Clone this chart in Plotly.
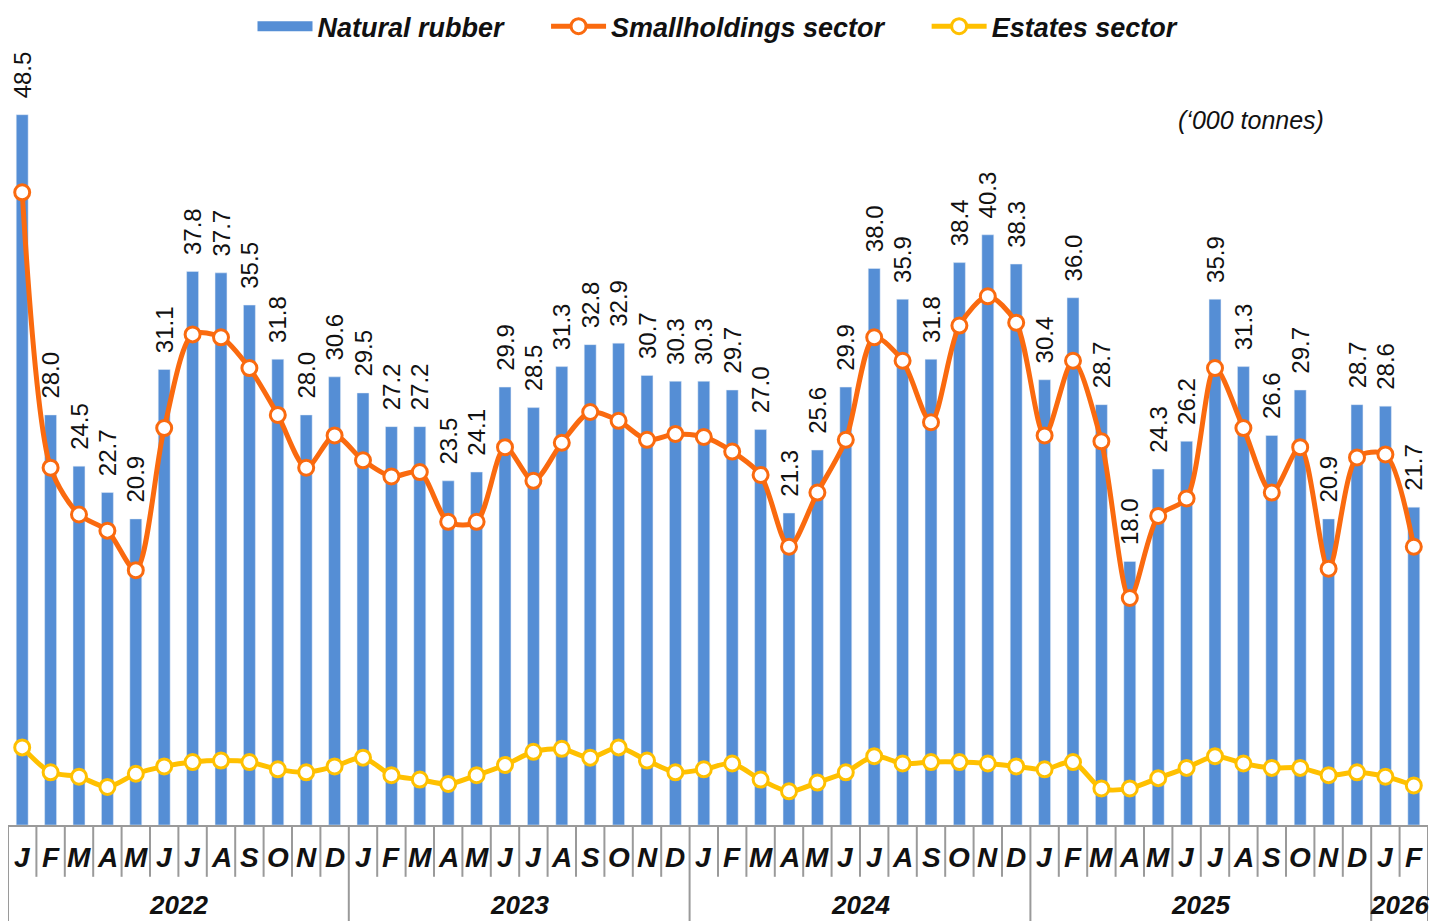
import plotly.graph_objects as go

# monthly production, '000 tonnes (Jan 2022 - Feb 2026)
years = ['2022'] * 12 + ['2023'] * 12 + ['2024'] * 12 + ['2025'] * 12 + ['2026'] * 2
month_letters = ['J', 'F', 'M', 'A', 'M', 'J', 'J', 'A', 'S', 'O', 'N', 'D']

natural_rubber = [
    48.5, 28.0, 24.5, 22.7, 20.9, 31.1, 37.8, 37.7, 35.5, 31.8, 28.0, 30.6,
    29.5, 27.2, 27.2, 23.5, 24.1, 29.9, 28.5, 31.3, 32.8, 32.9, 30.7, 30.3,
    30.3, 29.7, 27.0, 21.3, 25.6, 29.9, 38.0, 35.9, 31.8, 38.4, 40.3, 38.3,
    30.4, 36.0, 28.7, 18.0, 24.3, 26.2, 35.9, 31.3, 26.6, 29.7, 20.9, 28.7,
    28.6, 21.7,
]
smallholdings = [
    43.2, 24.4, 21.2, 20.1, 17.4, 27.1, 33.5, 33.3, 31.2, 28.0, 24.4, 26.6,
    24.9, 23.8, 24.1, 20.7, 20.7, 25.8, 23.5, 26.1, 28.2, 27.6, 26.3, 26.7,
    26.5, 25.5, 23.9, 19.0, 22.7, 26.3, 33.3, 31.7, 27.5, 34.1, 36.1, 34.3,
    26.6, 31.7, 26.2, 15.5, 21.1, 22.3, 31.2, 27.1, 22.7, 25.8, 17.5, 25.1,
    25.3, 19.0,
]
estates = [
    5.3, 3.6, 3.3, 2.6, 3.5, 4.0, 4.3, 4.4, 4.3, 3.8, 3.6, 4.0,
    4.6, 3.4, 3.1, 2.8, 3.4, 4.1, 5.0, 5.2, 4.6, 5.3, 4.4, 3.6,
    3.8, 4.2, 3.1, 2.3, 2.9, 3.6, 4.7, 4.2, 4.3, 4.3, 4.2, 4.0,
    3.8, 4.3, 2.5, 2.5, 3.2, 3.9, 4.7, 4.2, 3.9, 3.9, 3.4, 3.6,
    3.3, 2.7,
]

n = len(years)
idx = list(range(n))
months = [month_letters[i % 12] for i in idx]

BLUE = '#558ED5'
ORANGE = '#FA6A0F'
YELLOW = '#FFC000'
GRID = '#9a9a9a'
FONT = 'Liberation Sans, Arial'
SP = '\u00a0'

fig = go.Figure()
fig.add_trace(go.Bar(
    x=idx, y=natural_rubber, name='Natural rubber', showlegend=False,
    legendgroup='nr', marker_color=BLUE, width=0.42,
    texttemplate=SP * 2 + '%{y:.1f}', textposition='outside', textangle=-90,
    constraintext='none', cliponaxis=False,
    textfont=dict(family=FONT, size=24, color='#111111'),
))
# legend entry only: wide blue block like the original key
fig.add_trace(go.Scatter(
    x=[None], y=[None], name='Natural rubber' + SP * 5, legendgroup='nr',
    mode='lines', line=dict(color=BLUE, width=12),
))
fig.add_trace(go.Scatter(
    x=idx, y=smallholdings, name='Smallholdings sector' + SP * 5,
    mode='lines+markers', line=dict(color=ORANGE, width=5, shape='spline', smoothing=0.8),
    marker=dict(size=15, color='white', line=dict(color=ORANGE, width=3)),
    cliponaxis=False,
))
fig.add_trace(go.Scatter(
    x=idx, y=estates, name='Estates sector',
    mode='lines+markers', line=dict(color=YELLOW, width=5, shape='spline', smoothing=0.8),
    marker=dict(size=15, color='white', line=dict(color=YELLOW, width=3)),
    cliponaxis=False,
))

# category table under the plot: month cells and year groups
y_month = -0.066
y_bottom = -0.14
year_starts = [i for i in idx if i == 0 or years[i] != years[i - 1]]
shapes = []
for i in range(n + 1):
    edge = i == 0 or i == n or i in year_starts
    shapes.append(dict(
        type='line', xref='x', yref='paper', x0=i - 0.5, x1=i - 0.5,
        y0=0, y1=y_bottom if edge else y_month,
        line=dict(color=GRID, width=2),
    ))
annotations = []
for i in idx:
    annotations.append(dict(
        x=i, y=-0.042, xref='x', yref='paper', text=months[i], showarrow=False,
        xanchor='center', yanchor='middle',
        font=dict(family=FONT, size=28, style='italic', weight='bold', color='#111111'),
    ))
for k, s in enumerate(year_starts):
    e = year_starts[k + 1] if k + 1 < len(year_starts) else n
    annotations.append(dict(
        x=(s + e - 1) / 2, y=-0.102, xref='x', yref='paper', text=years[s], showarrow=False,
        xanchor='center', yanchor='middle',
        font=dict(family=FONT, size=26, style='italic', weight='bold', color='#111111'),
    ))
annotations.append(dict(
    text='(\u2018000 tonnes)', x=0.875, y=0.898, xref='paper', yref='paper',
    xanchor='center', yanchor='middle',
    showarrow=False, font=dict(family=FONT, size=25, style='italic', color='#111111'),
))

fig.update_layout(
    width=1446, height=921,
    margin=dict(l=0, r=26, t=32, b=104, autoexpand=False),
    plot_bgcolor='white', paper_bgcolor='white',
    font=dict(family=FONT, color='#111111'),
    showlegend=True,
    legend=dict(
        orientation='h', x=0.5, xanchor='center', y=1.017, yanchor='middle',
        font=dict(family=FONT, size=27, style='italic', weight='bold'),
        traceorder='normal', itemwidth=55,
    ),
    shapes=shapes,
    annotations=annotations,
    xaxis=dict(
        range=[-0.5, n - 0.5], showline=True, linecolor=GRID, linewidth=2,
        showticklabels=False, ticks='', showgrid=False, zeroline=False, automargin=False,
    ),
    yaxis=dict(range=[0, 53.6], visible=False, showgrid=False, zeroline=False, automargin=False),
)

fig.write_html('out.html')
